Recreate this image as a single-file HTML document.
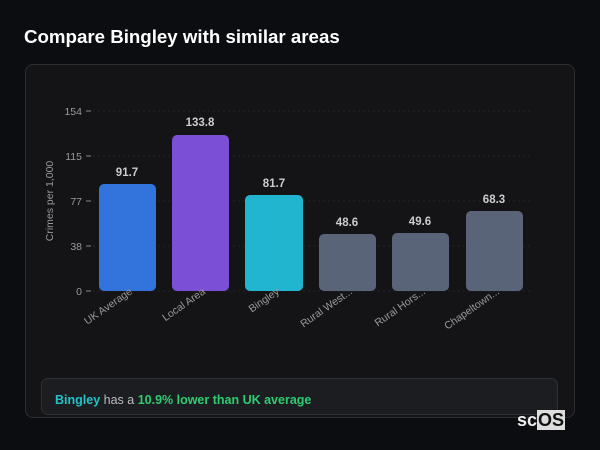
<!DOCTYPE html>
<html><head><style>
body{margin:0;width:600px;height:450px;background:#0c0d11;font-family:"Liberation Sans",sans-serif;overflow:hidden;position:relative}
.t{position:absolute;left:24px;top:26px;color:#fff;font-weight:bold;font-size:18.7px}
.card{position:absolute;left:25px;top:64px;width:550px;height:354px;background:#141417;border:1px solid #2c2d32;border-radius:8px;box-sizing:border-box}
.info{position:absolute;left:41px;top:378px;width:517px;height:37px;background:#1c1d21;border:1px solid #303136;border-radius:7px;box-sizing:border-box;font-size:12.5px;color:#bbb;line-height:42px;padding-left:13px}
.logo{position:absolute;left:517px;top:410px;font-size:18px;font-weight:bold;color:#eee}
.logo span{background:#ddd;color:#111;padding:0 1px}
</style></head><body>
<div class="t">Compare Bingley with similar areas</div>
<div class="card"></div>
<svg width="600" height="450" style="position:absolute;left:0;top:0" font-family="Liberation Sans, sans-serif">
<g stroke="#24252a" stroke-dasharray="2,3">
<line x1="93" x2="530" y1="111" y2="111"/><line x1="93" x2="530" y1="156" y2="156"/><line x1="93" x2="530" y1="201" y2="201"/><line x1="93" x2="530" y1="246" y2="246"/><line x1="93" x2="530" y1="291" y2="291"/>
</g>
<g stroke="#888"><line x1="86" x2="91" y1="111" y2="111"/><line x1="86" x2="91" y1="156" y2="156"/><line x1="86" x2="91" y1="201" y2="201"/><line x1="86" x2="91" y1="246" y2="246"/><line x1="86" x2="91" y1="291" y2="291"/></g>
<g fill="#999" font-size="10.5" text-anchor="end">
<text x="82" y="115">154</text><text x="82" y="160">115</text><text x="82" y="205">77</text><text x="82" y="250">38</text><text x="82" y="295">0</text>
</g>
<text transform="translate(53,201) rotate(-90)" fill="#999" font-size="10.5" text-anchor="middle">Crimes per 1,000</text>
<rect x="99" y="184" width="57" height="107" rx="5" fill="#3273dc"/>
<rect x="172" y="135" width="57" height="156" rx="5" fill="#7b4fd6"/>
<rect x="245" y="195" width="58" height="96" rx="5" fill="#22b5cf"/>
<rect x="319" y="234" width="57" height="57" rx="5" fill="#5a6478"/>
<rect x="392" y="233" width="57" height="58" rx="5" fill="#5a6478"/>
<rect x="466" y="211" width="57" height="80" rx="5" fill="#5a6478"/>
<g fill="#ccc" font-size="11.5" font-weight="bold" text-anchor="middle">
<text x="127" y="176">91.7</text><text x="200" y="126">133.8</text><text x="274" y="187">81.7</text><text x="347" y="226">48.6</text><text x="420" y="225">49.6</text><text x="494" y="203">68.3</text>
</g>
<g fill="#999" font-size="10.5" text-anchor="end">
<text transform="translate(133,293) rotate(-35)">UK Average</text>
<text transform="translate(206,293) rotate(-35)">Local Area</text>
<text transform="translate(280,293) rotate(-35)">Bingley</text>
<text transform="translate(353,293) rotate(-35)">Rural West...</text>
<text transform="translate(426,293) rotate(-35)">Rural Hors...</text>
<text transform="translate(500,293) rotate(-35)">Chapeltown...</text>
</g>
</svg>
<div class="info"><b style="color:#22c3c9">Bingley</b> has a <b style="color:#2ecc71">10.9% lower than UK average</b></div>
<div class="logo">sc<span>OS</span></div>
</body></html>
